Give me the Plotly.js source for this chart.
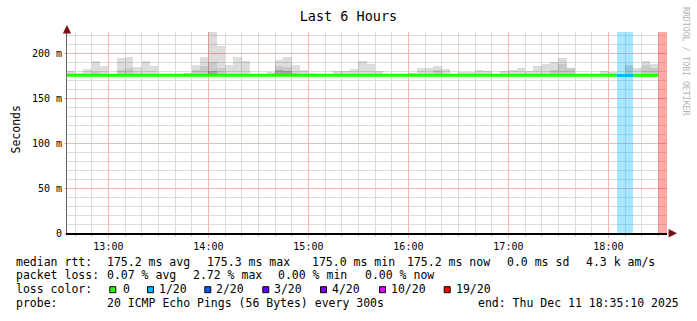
<!DOCTYPE html>
<html><head><meta charset="utf-8">
<script src="https://cdn.plot.ly/plotly-3.0.1.min.js"></script>
<style>html,body{margin:0;padding:0;background:#fff}#chart{width:697px;height:321px}</style>
</head><body><div id="chart"></div>
<script>
// ---- data (5-minute steps, start times) ----
const stepTimes = ['12:35','12:40','12:45','12:50','12:55',
 '13:00','13:05','13:10','13:15','13:20','13:25','13:30','13:35','13:40','13:45','13:50','13:55',
 '14:00','14:05','14:10','14:15','14:20','14:25','14:30','14:35','14:40','14:45','14:50','14:55',
 '15:00','15:05','15:10','15:15','15:20','15:25','15:30','15:35','15:40','15:45','15:50','15:55',
 '16:00','16:05','16:10','16:15','16:20','16:25','16:30','16:35','16:40','16:45','16:50','16:55',
 '17:00','17:05','17:10','17:15','17:20','17:25','17:30','17:35','17:40','17:45','17:50','17:55',
 '18:00','18:05','18:10','18:15','18:20','18:25','18:30'];
// smoke: lowest ping, outer (max) ping, inner layers (ms)
const smokeLo = [174.7,174.8,174.7,174.6,174.7,174.8, 174.6,174.6,174.7,174.7,174.8,174.8,
 174.8,174.8,174.7,174.6,174.6,174.5, 174.6,174.7,174.6,174.7,174.8,174.8,
 174.7,174.4,174.4,174.6,174.7,174.8, 174.8,174.8,174.7,174.7,174.7,174.6,
 174.6,174.7,174.8,174.8,174.8,174.7, 174.7,174.7,174.6,174.7,174.8,174.7,
 174.7,174.7,174.7,174.8,174.7,174.7, 174.7,174.7,174.6,174.6,174.6,174.5,
 174.6,174.8,174.8,174.8,174.7,174.7, 174.8,174.7,174.7,174.6,174.6,null];
const smokeHi = [180,178,181.8,191,185.5,176, 194.4,195.6,185,191,185.5,176,
 176,176,178,187,196,223, 207.8,186.7,195.6,191,176,176.5,
 179,191.8,195.6,186.3,180.7,177.8, 176,176,180,180,182,191,
 187.8,180,176,176,176,178, 183.7,183.7,185.5,182.6,176,179,
 179,181,180,176,180.4,181.5, 183,180.4,185.5,187.4,189.6,194.4,
 183.7,176.5,176.5,176.5,180,179, 176,186.7,183.7,191,187.8,null];
const smokeMid = [null,null,null,179,null,null, 181,183.3,null,null,null,null,
 null,null,null,181,186,190.3, 183,null,null,null,null,null,
 null,186,184,178,null,null, null,null,null,null,null,null,
 null,null,null,null,null,null, null,null,181,null,null,null,
 null,null,null,null,null,null, null,null,null,null,181,187.8,
 183.7,null,null,null,null,null, null,null,null,186.7,183.7,null];
const smokeDark = [null,null,null,null,null,null, null,null,null,null,null,null,
 null,null,null,null,null,180, null,null,null,null,null,null,
 null,181,180,null,null,null, null,null,null,null,null,null,
 null,null,null,null,null,null, null,null,null,null,null,null,
 null,null,null,null,null,null, null,null,null,null,null,null,
 null,null,null,null,null,null, null,null,null,null,null,null];
const medianRtt = [175.2,175.2,175.3,175.2,175.2,175.2, 175.3,175.3,175.2,175.2,175.2,175.2,
 175.2,175.2,175.2,175.2,175.2,175.1, 175.2,175.3,175.2,175.2,175.2,175.2,
 175.2,175.3,175.3,175.2,175.2,175.2, 175.1,175.1,175.2,175.2,175.2,175.2,
 175.2,175.2,175.2,175.2,175.2,175.2, 175.2,175.2,175.3,175.2,175.2,175.2,
 175.2,175.2,175.2,175.2,175.2,175.2, 175.2,175.2,175.3,175.3,175.3,175.3,
 175.2,175.2,175.2,175.2,175.2,175.2, 175.0,175.0,175.2,175.2,175.2,null];
const lossCount = [0,0,0,0,0,0, 0,0,0,0,0,0, 0,0,0,0,0,0, 0,0,0,0,0,0,
 0,0,0,0,0,0, 0,0,0,0,0,0, 0,0,0,0,0,0, 0,0,0,0,0,0,
 0,0,0,0,0,0, 0,0,0,0,0,0, 0,0,0,0,0,0, 1,1,0,0,0,19];
const lossLevels = [0,1,2,3,4,10,19];
const lossLabels = ['0','1/20','2/20','3/20','4/20','10/20','19/20'];
const lossColors = ['#26ff00','#00b8ff','#0059ff','#5e00ff','#7e00ff','#dd00ff','#ff0000'];
const yTickVals = [0,50,100,150,200];
const yTickText = ['0','50 m','100 m','150 m','200 m'];
const xTickVals = ['13:00','14:00','15:00','16:00','17:00','18:00'];
const statLines = [
 [[16,'median rtt:'],[107,'175.2 ms avg'],[207,'175.3 ms max'],[311.5,'175.0 ms min'],[406.5,'175.2 ms now'],[506.5,'0.0 ms sd'],[585.5,'4.3 k am/s']],
 [[16,'packet loss:'],[107,'0.07 % avg'],[192.5,'2.72 % max'],[278,'0.00 % min'],[364.5,'0.00 % now']],
 [[16,'loss color:']],
 [[16,'probe:'],[107,'20 ICMP Echo Pings (56 Bytes) every 300s'],[478,'end: Thu Dec 11 18:35:10 2025']]
];
const lossLegendBox = [109.3,147,204.3,262.3,320,379,443.7];
const lossLegendText = [123.3,158.6,216,274,331.6,391,456];

// ---- helpers ----
const day = [2025,11,11];
function tms(hm, s){ const p = hm.split(':'); return Date.UTC(day[0],day[1],day[2],+p[0],+p[1],s||0); }
const STEP = 5*60*1000;
const tStart = stepTimes.map(t => tms(t));
const Y_TOP = 201/0.9;
function lossColor(n){ let c = lossColors[0]; for (let i=0;i<lossLevels.length;i++) if (n>=lossLevels[i]) c = lossColors[i]; return c; }
function hexA(h,a){ const r=parseInt(h.substr(1,2),16),g=parseInt(h.substr(3,2),16),b=parseInt(h.substr(5,2),16); return `rgba(${r},${g},${b},${a})`; }

const traces = [];
// loss background bands
const lx=[], lc=[];
lossCount.forEach((n,i)=>{ if(n>0){ lx.push(tStart[i]); lc.push(hexA(lossColor(n),0.34)); }});
traces.push({type:'bar', x:lx, y:lx.map(()=>Y_TOP), base:lx.map(()=>0), width:lx.map(()=>STEP), offset:0,
  marker:{color:lc, line:{width:0}}, hoverinfo:'skip'});
// smoke layers
function smoke(top, col){
  const xs=[], ys=[], bs=[];
  top.forEach((v,i)=>{ if(v!=null && smokeLo[i]!=null){ xs.push(tStart[i]); ys.push(v-smokeLo[i]); bs.push(smokeLo[i]); }});
  traces.push({type:'bar', x:xs, y:ys, base:bs, width:xs.map(()=>STEP), offset:0, marker:{color:col, line:{width:0}}, hoverinfo:'skip'});
}
smoke(smokeHi, 'rgba(0,0,0,0.135)');
smoke(smokeMid, 'rgba(0,0,0,0.09)');
smoke(smokeDark, 'rgba(0,0,0,0.16)');
// median line, coloured by loss
lossLevels.forEach((lv,li)=>{
  const xs=[], ys=[]; let any=false;
  medianRtt.forEach((v,i)=>{
    if(v==null) return;
    if(lossColor(lossCount[i])!==lossColors[li]) { xs.push(null); ys.push(null); return; }
    xs.push(tStart[i], tStart[i]+STEP); ys.push(v, v); any=true;
  });
  if(any) traces.push({type:'scatter', mode:'lines', x:xs, y:ys, connectgaps:false,
    line:{color:lossColors[li], width:3}, hoverinfo:'skip'});
});

// ---- layout ----
const L=67, R=667, T=32, B=233;
const px = x => (x-L)/(R-L), py = y => (B-y)/(B-T);
const ann = [];
const lineY = [261.7, 275, 289.3, 302.7];
statLines.forEach((segs,li)=>segs.forEach(([x,s])=>ann.push({xref:'paper',yref:'paper',x:px(x),y:py(lineY[li]),
  xanchor:'left',yanchor:'middle',text:s,showarrow:false,borderpad:0,borderwidth:0,
  font:{family:'DejaVu Sans Mono',size:11.5,color:'#000'}})));
const shapes = [];
lossLabels.forEach((lab,i)=>{
  ann.push({xref:'paper',yref:'paper',x:px(lossLegendText[i]),y:py(lineY[2]),xanchor:'left',yanchor:'middle',
    text:lab,showarrow:false,borderpad:0,borderwidth:0,font:{family:'DejaVu Sans Mono',size:11.5,color:'#000'}});
  shapes.push({type:'rect',xref:'paper',yref:'paper',x0:px(lossLegendBox[i]+0.5),x1:px(lossLegendBox[i]+6.5),
    y0:py(286.7),y1:py(292.7),fillcolor:lossColors[i],line:{color:'#000',width:1}});
});
ann.push({xref:'paper',yref:'paper',x:px(15.5),y:py(130),text:'Seconds',textangle:-90,showarrow:false,
  xanchor:'center',yanchor:'middle',font:{family:'DejaVu Sans Mono',size:11.5,color:'#000'}});
ann.push({xref:'paper',yref:'paper',x:px(686.5),y:py(61.5),text:'RRDTOOL / TOBI OETIKER',textangle:90,showarrow:false,
  xanchor:'center',yanchor:'middle',font:{family:'DejaVu Sans Mono',size:8.2,color:'#b4b4b4'}});
// axis arrows
ann.push({xref:'paper',yref:'paper',x:px(67),y:py(25),ax:0,ay:9,text:'',showarrow:true,arrowhead:2,arrowsize:1.4,arrowwidth:1.2,arrowcolor:'#7a1010'});
ann.push({xref:'paper',yref:'paper',x:px(677),y:py(233.3),ax:-10,ay:0,text:'',showarrow:true,arrowhead:2,arrowsize:1.4,arrowwidth:1.2,arrowcolor:'#7a1010'});

const layout = {
  width:697, height:321, margin:{l:L,r:697-R,t:T,b:321-B,pad:0},
  paper_bgcolor:'#ffffff', plot_bgcolor:'#ffffff', showlegend:false,
  barmode:'overlay', bargap:0,
  font:{family:'DejaVu Sans Mono',size:10,color:'#000'},
  title:{text:'Last 6 Hours', font:{family:'DejaVu Sans Mono',size:13.5,color:'#000'},
    xref:'container', x:0.5, xanchor:'center', yref:'container', y:1-16/321, yanchor:'middle'},
  xaxis:{type:'date', range:[tms('12:35',10), tms('18:35',10)],
    tickmode:'array', tickvals:xTickVals.map(t=>tms(t)), ticktext:xTickVals,
    showgrid:true, gridcolor:'#f6b4b4', gridwidth:1,
    minor:{tickmode:'linear', tick0:tms('13:00'), dtick:600000, showgrid:true, gridcolor:'#dcdcdc', gridwidth:1, ticks:'outside', ticklen:2, tickcolor:'#cccccc'},
    ticks:'outside', ticklen:3, tickcolor:'#f6b4b4', showline:true, linecolor:'#000', linewidth:1.5,
    zeroline:false, fixedrange:true, tickfont:{family:'DejaVu Sans Mono',size:10,color:'#000'}},
  yaxis:{range:[0,Y_TOP], tickmode:'array', tickvals:yTickVals, ticktext:yTickText,
    showgrid:true, gridcolor:'#f6b4b4', gridwidth:1,
    minor:{tickmode:'linear', tick0:0, dtick:10, showgrid:true, gridcolor:'#dcdcdc', gridwidth:1},
    ticks:'outside', ticklen:2, tickcolor:'#f6b4b4', showline:true, linecolor:'#666', linewidth:1,
    zeroline:false, fixedrange:true, tickfont:{family:'DejaVu Sans Mono',size:10,color:'#000'}},
  annotations:ann, shapes:shapes
};
Plotly.newPlot('chart', traces, layout, {displayModeBar:false, staticPlot:true});
</script></body></html>
